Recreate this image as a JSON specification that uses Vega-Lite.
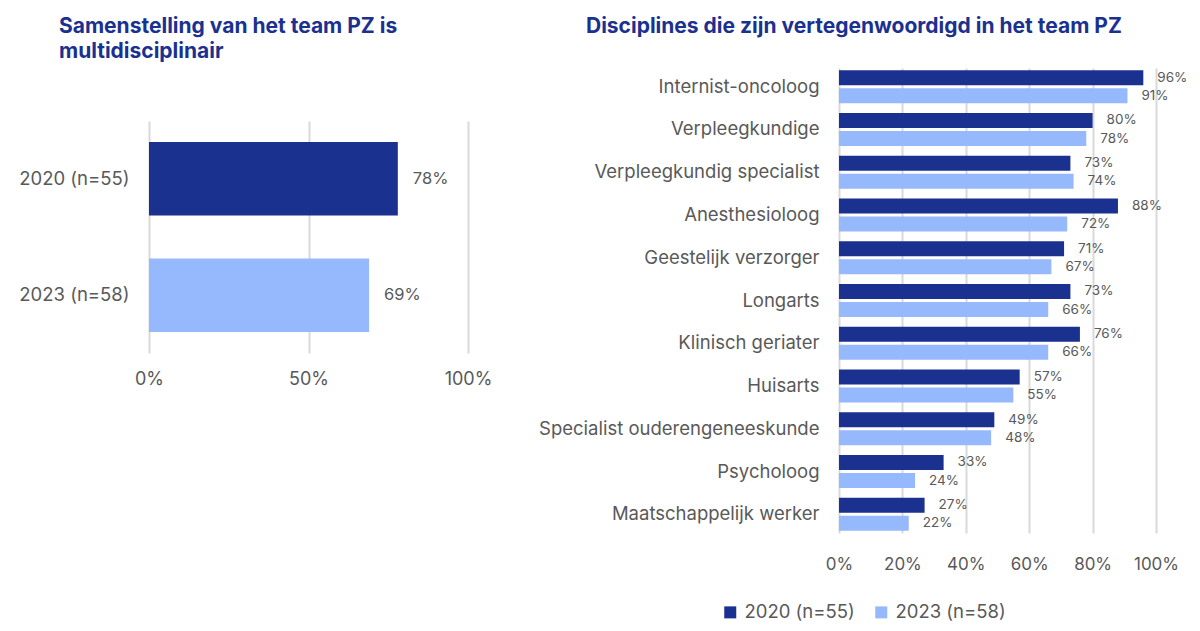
{
  "$schema": "https://vega.github.io/schema/vega-lite/v6.json",
  "background": "white",
  "padding": {"left": 18, "top": 16, "right": 10, "bottom": 5},
  "spacing": 46,
  "resolve": {"scale": {"color": "independent"}},
  "config": {
    "view": {"stroke": null},
    "font": "Inter",
    "axis": {
      "labelFont": "Inter",
      "labelColor": "#595959",
      "labelFontSize": 18.5,
      "labelLimit": 400,
      "labelFlush": false,
      "labelOverlap": false,
      "domain": false,
      "ticks": false,
      "gridColor": "#d9d9d9",
      "gridWidth": 2
    },
    "title": {
      "font": "Inter",
      "fontWeight": "bold",
      "fontSize": 21,
      "color": "#1a3190",
      "anchor": "start",
      "frame": "group"
    },
    "legend": {"labelFont": "Inter"}
  },
  "hconcat": [
    {
      "width": 319,
      "height": 285,
      "title": {
        "text": ["Samenstelling van het team PZ is", "multidisciplinair"],
        "dx": -90,
        "offset": 6,
        "lineHeight": 25
      },
      "data": {
        "values": [
          {"year": "2020 (n=55)", "share": 0.78},
          {"year": "2023 (n=58)", "share": 0.69}
        ]
      },
      "resolve": {"axis": {"x": "independent"}},
      "encoding": {
        "y": {
          "field": "year",
          "type": "nominal",
          "sort": null,
          "title": null,
          "scale": {"range": [53, 285], "paddingInner": 0.37, "paddingOuter": 0.18},
          "axis": {"labelPadding": 20}
        }
      },
      "layer": [
        {
          "mark": {"type": "bar"},
          "encoding": {
            "x": {
              "field": "share",
              "type": "quantitative",
              "title": null,
              "scale": {"domain": [0, 1]},
              "axis": {"orient": "top", "values": [0, 0.5, 1], "grid": true, "labels": false}
            },
            "color": {
              "field": "year",
              "type": "nominal",
              "scale": {"range": ["#1a3190", "#96b8fc"]},
              "legend": null
            }
          }
        },
        {
          "mark": {"type": "text", "align": "left", "dx": 15, "fontSize": 16.5, "color": "#595959"},
          "encoding": {
            "x": {
              "field": "share",
              "type": "quantitative",
              "title": null,
              "axis": {"orient": "bottom", "values": [0, 0.5, 1], "format": ".0%", "grid": false, "labelPadding": 17, "labelFontSize": 18}
            },
            "text": {"field": "share", "format": ".0%"}
          }
        }
      ]
    },
    {
      "width": 317,
      "height": 465,
      "title": {
        "text": "Disciplines die zijn vertegenwoordigd in het team PZ",
        "dx": -253,
        "offset": 31
      },
      "data": {
        "values": [
          {"discipline": "Internist-oncoloog", "year": "2020 (n=55)", "share": 0.96},
          {"discipline": "Internist-oncoloog", "year": "2023 (n=58)", "share": 0.91},
          {"discipline": "Verpleegkundige", "year": "2020 (n=55)", "share": 0.80},
          {"discipline": "Verpleegkundige", "year": "2023 (n=58)", "share": 0.78},
          {"discipline": "Verpleegkundig specialist", "year": "2020 (n=55)", "share": 0.73},
          {"discipline": "Verpleegkundig specialist", "year": "2023 (n=58)", "share": 0.74},
          {"discipline": "Anesthesioloog", "year": "2020 (n=55)", "share": 0.88},
          {"discipline": "Anesthesioloog", "year": "2023 (n=58)", "share": 0.72},
          {"discipline": "Geestelijk verzorger", "year": "2020 (n=55)", "share": 0.71},
          {"discipline": "Geestelijk verzorger", "year": "2023 (n=58)", "share": 0.67},
          {"discipline": "Longarts", "year": "2020 (n=55)", "share": 0.73},
          {"discipline": "Longarts", "year": "2023 (n=58)", "share": 0.66},
          {"discipline": "Klinisch geriater", "year": "2020 (n=55)", "share": 0.76},
          {"discipline": "Klinisch geriater", "year": "2023 (n=58)", "share": 0.66},
          {"discipline": "Huisarts", "year": "2020 (n=55)", "share": 0.57},
          {"discipline": "Huisarts", "year": "2023 (n=58)", "share": 0.55},
          {"discipline": "Specialist ouderengeneeskunde", "year": "2020 (n=55)", "share": 0.49},
          {"discipline": "Specialist ouderengeneeskunde", "year": "2023 (n=58)", "share": 0.48},
          {"discipline": "Psycholoog", "year": "2020 (n=55)", "share": 0.33},
          {"discipline": "Psycholoog", "year": "2023 (n=58)", "share": 0.24},
          {"discipline": "Maatschappelijk werker", "year": "2020 (n=55)", "share": 0.27},
          {"discipline": "Maatschappelijk werker", "year": "2023 (n=58)", "share": 0.22}
        ]
      },
      "encoding": {
        "y": {
          "field": "discipline",
          "type": "nominal",
          "sort": null,
          "title": null,
          "scale": {"paddingInner": 0.225, "paddingOuter": 0.05},
          "axis": {"labelPadding": 20}
        },
        "yOffset": {
          "field": "year",
          "type": "nominal",
          "sort": null,
          "scale": {"paddingInner": 0.17}
        },
        "x": {
          "field": "share",
          "type": "quantitative",
          "title": null,
          "scale": {"domain": [0, 1]},
          "axis": {"values": [0, 0.2, 0.4, 0.6, 0.8, 1], "format": ".0%", "grid": true, "labelPadding": 23, "labelFontSize": 17}
        }
      },
      "layer": [
        {
          "mark": {"type": "bar"},
          "encoding": {
            "color": {
              "field": "year",
              "type": "nominal",
              "title": null,
              "scale": {"range": ["#1a3190", "#96b8fc"]},
              "legend": {
                "orient": "none",
                "legendX": -118,
                "legendY": 535,
                "direction": "horizontal",
                "symbolType": "square",
                "symbolSize": 144,
                "symbolStrokeWidth": 0,
                "labelFontSize": 18.5,
                "labelOffset": 5,
                "labelColor": "#595959",
                "columnPadding": 17
              }
            }
          }
        },
        {
          "mark": {"type": "text", "align": "left", "dx": 14, "fontSize": 13.5, "color": "#595959"},
          "encoding": {"text": {"field": "share", "format": ".0%"}}
        }
      ]
    }
  ]
}
